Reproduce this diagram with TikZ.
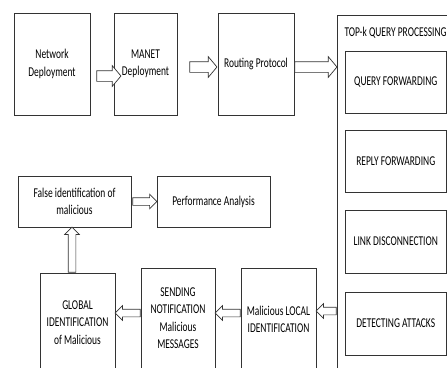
\documentclass[tikz,border=0pt]{standalone}
\usepackage{fontspec}
\setmainfont{Carlito}[FakeStretch=0.7]
\usetikzlibrary{calc, shapes.arrows}

% hollow block arrow from one point to another
\newcommand{\hollow}[3][]{%
  \path let \p1=#2, \p2=#3, \n1={veclen(\x2-\x1,\y2-\y1)}, \n2={atan2(\y2-\y1,\x2-\x1)} in
    node [harrow, #1, minimum height=\n1, rotate=\n2, anchor=tail] at (\p1) {};}

\begin{document}
\begin{tikzpicture}[x=1pt, y=-1pt, font=\fontsize{13.5}{17.5}\selectfont]
  \tikzstyle{block} = [draw=black!80, line width=0.8pt, rectangle, align=center, inner sep=0pt]
  \tikzstyle{harrow} = [draw=black!80, line width=0.7pt, fill=white, single arrow, inner xsep=0pt, inner ysep=5pt, minimum width=0pt, single arrow head extend=5pt, single arrow tip angle=100]
  \tikzstyle{lowarrow} = [inner ysep=3.5pt, single arrow head extend=3.5pt, single arrow tip angle=90]
  \useasboundingbox (0,0) rectangle (447,367);
  \clip (0,0) rectangle (447,367);

  % top row
  \node [block, minimum width=76pt, minimum height=102pt] (net) at (52,64) {Network\\Deployment};
  \node [block, minimum width=63pt, minimum height=102pt] (manet) at (145.5,64) {MANET\\Deployment};
  \node [block, minimum width=76pt, minimum height=102pt] (routing) at (256,64) {Routing Protocol};

  % query processing column
  \node [block, minimum width=140pt, minimum height=390pt] (topk) at (407,210) {};
  \node [anchor=west] (title) at (341,33) {TOP-k QUERY PROCESSING};
  \node [block, minimum width=101.5pt, minimum height=62pt] (qf) at (395.75,82) {QUERY FORWARDING};
  \node [block, minimum width=101.5pt, minimum height=62pt] (rf) at (395.75,161) {REPLY FORWARDING};
  \node [block, minimum width=101.5pt, minimum height=63pt] (ld) at (395.75,241.5) {LINK DISCONNECTION};
  \node [block, minimum width=101.5pt, minimum height=63pt] (da) at (395.75,323.5) {DETECTING ATTACKS};

  % lower rows
  \node [block, minimum width=113pt, minimum height=51pt] (false) at (74.5,201.5) {False identification of\\malicious};
  \node [block, minimum width=113pt, minimum height=51pt] (perf) at (213.5,201.5) {Performance Analysis};
  \node [block, minimum width=75pt, minimum height=99pt] (global) at (77.5,322.5) {GLOBAL\\IDENTIFICATION\\of Malicious};
  \node [block, minimum width=74pt, minimum height=100pt] (sending) at (178,318) {SENDING\\NOTIFICATION\\Malicious\\MESSAGES};
  \node [block, minimum width=75pt, minimum height=103pt] (local) at (278.5,319.5) {Malicious LOCAL\\IDENTIFICATION};

  \hollow{($(net.east)+(6,12)$)}{($(manet.west)+(7,12)$)}
  \hollow{($(manet.east)+(12,3)$)}{($(routing.west)+(-1,3)$)}
  \hollow{($(routing.east)+(0,3)$)}{($(routing.east -| topk.west)+(0,3)$)}
  \hollow[lowarrow]{($(false.east)+(1,0)$)}{(perf.west)}
  \hollow[lowarrow]{($(false.south |- global.north)+(-2.5,0)$)}{($(false.south)+(-2.5,0)$)}
  \hollow[lowarrow]{($(sending.west)+(0,-5)$)}{($(sending.west -| global.east)+(0,-5)$)}
  \hollow[lowarrow]{($(local.west)+(0,-6.5)$)}{($(local.west -| sending.east)+(0,-6.5)$)}
  \hollow[lowarrow]{($(local.east -| topk.west)+(0,-8.5)$)}{($(local.east)+(0,-8.5)$)}
\end{tikzpicture}
\end{document}
